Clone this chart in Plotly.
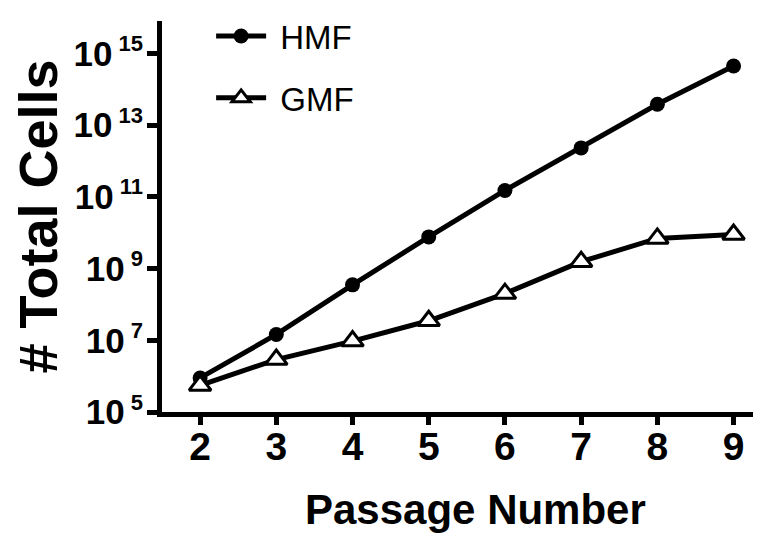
import plotly.graph_objects as go

passage = [2, 3, 4, 5, 6, 7, 8, 9]
hmf = [8.9e5, 1.45e7, 3.5e8, 7.6e9, 1.5e11, 2.3e12, 3.8e13, 4.4e14]
gmf = [5.5e5, 2.9e6, 9.5e6, 3.5e7, 2.0e8, 1.55e9, 6.9e9, 8.9e9]

ytick_vals = [1e5, 1e7, 1e9, 1e11, 1e13, 1e15]
ytick_exps = ["5", "7", "9", "11", "13", "15"]
ytick_text = ["10<sup><span style='font-size:22px'>\u00a0%s</span></sup>" % e for e in ytick_exps]
xtick_vals = [2, 3, 4, 5, 6, 7, 8, 9]

FONT = "Liberation Sans, Arial, sans-serif"

fig = go.Figure()
fig.add_trace(go.Scatter(
    x=passage, y=hmf, name="\u00a0HMF", mode="lines+markers",
    line=dict(color="black", width=5),
    marker=dict(symbol="circle", size=15, color="black"),
    legendgroup="a",
))
fig.add_trace(go.Scatter(
    x=passage, y=gmf, name="\u00a0GMF", mode="lines+markers",
    line=dict(color="black", width=5),
    marker=dict(symbol="triangle-up", size=19, color="white",
                line=dict(color="black", width=3)),
    legendgroup="b",
))

fig.update_layout(
    width=753, height=529,
    margin=dict(l=154, r=0, t=0, b=125),
    plot_bgcolor="white", paper_bgcolor="white",
    font=dict(family=FONT, color="black"),
    showlegend=True,
    legend=dict(
        x=0.082, y=1.034, xanchor="left", yanchor="top",
        font=dict(size=33, family=FONT, color="black"),
        bgcolor="rgba(0,0,0,0)", traceorder="grouped", tracegroupgap=16,
        itemwidth=50,
    ),
    xaxis=dict(
        range=[1.5, 9.36], tickvals=xtick_vals,
        showline=True, linecolor="black", linewidth=5,
        ticks="outside", ticklen=8, tickwidth=5, tickcolor="black",
        tickfont=dict(size=39, family=FONT, weight="bold"),
        ticklabelstandoff=-12,
        showgrid=False, zeroline=False, automargin=False,
    ),
    yaxis=dict(
        type="log", range=[5, 15.9], tickvals=ytick_vals, ticktext=ytick_text,
        showline=True, linecolor="black", linewidth=5,
        ticks="outside", ticklen=10, tickwidth=5, tickcolor="black",
        tickfont=dict(size=35, family=FONT, weight="bold"),
        ticklabelstandoff=-3,
        showgrid=False, zeroline=False, automargin=False,
        title=dict(text="# Total Cells", font=dict(size=54, family=FONT, weight="bold"),
                   standoff=19),
    ),
    annotations=[dict(
        text="Passage Number", xref="paper", yref="paper",
        x=0.524, y=-0.25, xanchor="center", yanchor="middle", showarrow=False,
        font=dict(size=42, family=FONT, weight="bold", color="black"),
    )],
)

fig.write_html("out.html")
